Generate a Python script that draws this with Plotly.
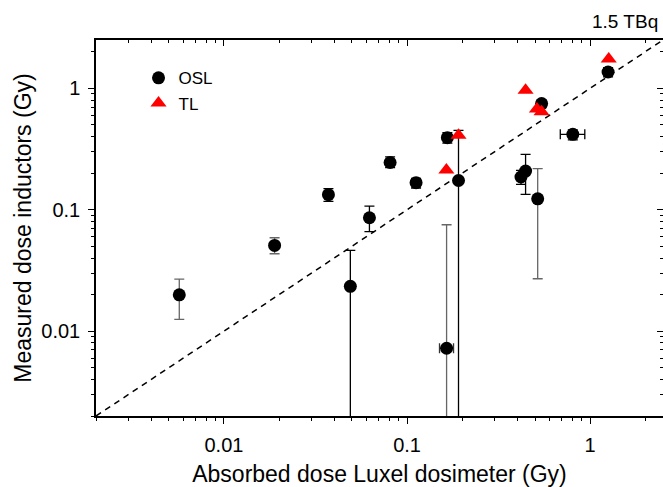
import plotly.graph_objects as go

# ---------------- data ----------------
# OSL points with black error bars
osl_x = [0.0372, 0.0623, 0.0808, 0.112, 0.166, 0.191, 0.049, 0.419, 0.444, 0.543, 0.804, 1.253]
osl_y = [0.133, 0.0859, 0.245, 0.167, 0.392, 0.174, 0.0234, 0.186, 0.208, 0.748, 0.418, 1.362]
osl_ey_plus = [0.016, 0.021, 0.027, 0.014, 0.040, 0.276, 0.0228, 0.025, 0.078, 0.055, 0.036, 0.12]
osl_ey_minus = [0.016, 0.020, 0.023, 0.016, 0.038, 0.2, 0.03, 0.024, 0.074, 0.055, 0.042, 0.12]
osl_ex_plus = [0, 0, 0, 0, 0, 0, 0, 0, 0, 0, 0.131, 0]
osl_ex_minus = [0, 0, 0, 0, 0, 0, 0, 0, 0, 0, 0.117, 0]

# OSL points with grey error bars
oslg_x = [0.0057, 0.0189, 0.1644, 0.517]
oslg_y = [0.0199, 0.0508, 0.00723, 0.123]
oslg_ey_plus = [0.0069, 0.008, 0.068, 0.095]
oslg_ey_minus = [0.0074, 0.0074, 0.01, 0.096]
oslg_ex_plus = [0, 0, 0.015, 0]
oslg_ex_minus = [0, 0, 0.014, 0]

# TL points
tl_x = [0.164, 0.191, 0.444, 0.512, 0.543, 1.263]
tl_y = [0.212, 0.41, 0.965, 0.675, 0.642, 1.74]

# identity line
line_xy = [0.002, 2.5]

# axis ticks
tick_vals = [0.01, 0.1, 1]
tick_text = ["0.01", "0.1", "1"]

FONT = "Liberation Sans, Arial, sans-serif"

fig = go.Figure()

fig.add_trace(go.Scatter(
    x=line_xy, y=line_xy, mode="lines",
    line=dict(color="black", width=1.5, dash="6px,5px"),
    showlegend=False, hoverinfo="skip"))

fig.add_trace(go.Scatter(
    x=oslg_x, y=oslg_y, mode="markers",
    marker=dict(symbol="circle", size=13, color="black"),
    error_y=dict(type="data", array=oslg_ey_plus, arrayminus=oslg_ey_minus,
                 color="#666666", thickness=1.3, width=5),
    error_x=dict(type="data", array=oslg_ex_plus, arrayminus=oslg_ex_minus,
                 color="#333333", thickness=1.3, width=5),
    showlegend=False))

fig.add_trace(go.Scatter(
    x=osl_x, y=osl_y, mode="markers", name="OSL",
    marker=dict(symbol="circle", size=13, color="black"),
    error_y=dict(type="data", array=osl_ey_plus, arrayminus=osl_ey_minus,
                 color="black", thickness=1.3, width=5),
    error_x=dict(type="data", array=osl_ex_plus, arrayminus=osl_ex_minus,
                 color="black", thickness=1.3, width=5)))

fig.add_trace(go.Scatter(
    x=tl_x, y=tl_y, mode="markers", name="TL",
    marker=dict(symbol="triangle-up", size=14, color="red")))

# dummy trace for mirrored (inside) ticks on top/right
fig.add_trace(go.Scatter(x=line_xy, y=line_xy, xaxis="x2", yaxis="y2",
                         mode="markers", marker=dict(opacity=0),
                         showlegend=False, hoverinfo="skip"))

common = dict(type="log", range=[-2.69897, 0.39794], tickvals=tick_vals,
              showgrid=False, zeroline=False, linecolor="black", linewidth=1.5,
              tickcolor="black", tickwidth=1.2)

fig.update_layout(
    width=663, height=487,
    margin=dict(l=96, r=0, t=40, b=71),
    paper_bgcolor="white", plot_bgcolor="white",
    font=dict(family=FONT, color="black"),
    xaxis=dict(**common, ticktext=tick_text, ticks="outside", ticklen=6,
               showline=True, ticklabelstandoff=4,
               tickfont=dict(size=20, family=FONT),
               minor=dict(ticks="outside", ticklen=3, dtick="D1",
                          tickcolor="black", tickwidth=1.2),
               title=dict(text="Absorbed dose Luxel dosimeter (Gy)",
                          font=dict(size=23, family=FONT), standoff=12)),
    yaxis=dict(**common, ticktext=tick_text, ticks="outside", ticklen=6,
               showline=True, ticklabelstandoff=4,
               tickfont=dict(size=20, family=FONT),
               minor=dict(ticks="outside", ticklen=3, dtick="D1",
                          tickcolor="black", tickwidth=1.2),
               title=dict(text="Measured dose inductors (Gy)",
                          font=dict(size=23, family=FONT), standoff=3)),
    xaxis2=dict(**common, overlaying="x", side="top", anchor="y",
                ticks="inside", ticklen=6, showticklabels=False, showline=True,
                minor=dict(ticks="inside", ticklen=3, dtick="D1",
                           tickcolor="black", tickwidth=1.2)),
    yaxis2=dict(**common, overlaying="y", side="right", anchor="x",
                ticks="inside", ticklen=6, showticklabels=False, showline=True,
                minor=dict(ticks="inside", ticklen=3, dtick="D1",
                           tickcolor="black", tickwidth=1.2)),
    legend=dict(x=0.075, y=0.946, xanchor="left", yanchor="top",
                bgcolor="rgba(0,0,0,0)", font=dict(size=17, family=FONT),
                tracegroupgap=0),
    annotations=[dict(text="1.5 TBq", xref="paper", yref="paper", x=1, y=1,
                      xanchor="right", yanchor="bottom", xshift=-3, yshift=6,
                      showarrow=False, font=dict(size=19, family=FONT))],
)

fig.write_html("out.html")
